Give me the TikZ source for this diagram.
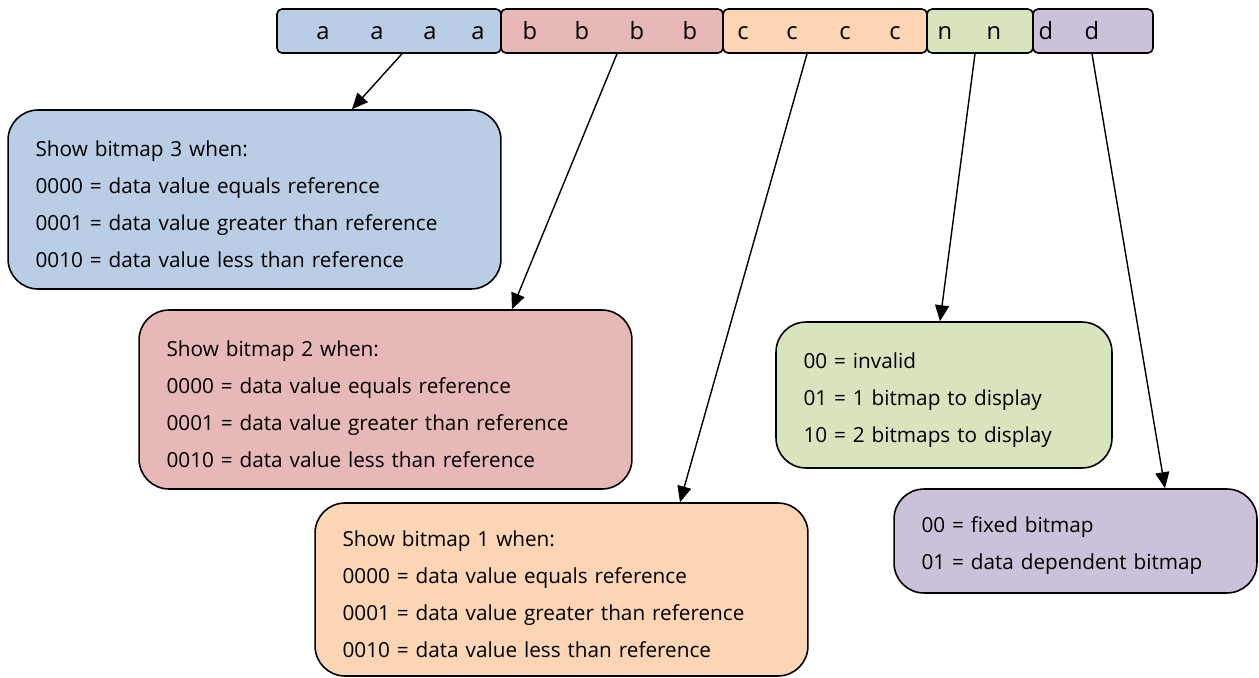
\documentclass[tikz,border=0pt]{standalone}
\usepackage{fontspec}
\setmainfont{Open Sans}
\usetikzlibrary{arrows.meta}
\definecolor{fieldblue}{HTML}{B9CDE5}
\definecolor{fieldred}{HTML}{E6B9B8}
\definecolor{fieldorange}{HTML}{FCD5B5}
\definecolor{fieldgreen}{HTML}{D7E4BD}
\definecolor{fieldpurple}{HTML}{CCC1DA}

\tikzset{
  field/.style={draw, line width=0.9pt, rounded corners=0.1cm, inner sep=0pt, minimum height=0.88cm},
  bitletter/.style={anchor=base, inner sep=0pt, font=\fontsize{13.5}{16}\selectfont},
  descbox/.style={draw, line width=0.9pt, rounded corners=0.6cm, align=left, inner xsep=0.55cm, inner ysep=0pt,
    font=\fontsize{11.8}{21}\selectfont, execute at begin node={\rule{0pt}{14.5pt}}},
  pointer/.style={-{Triangle[length=0.32cm,width=0.28cm]}, line width=0.8pt}
}

\begin{document}
\begin{tikzpicture}[x=0.02cm, y=-0.02cm]
        \useasboundingbox (0,0) rectangle (1259,677);

        % The bit fields along the top
        \node[field, fill=fieldblue, minimum width=4.48cm] (fieldA) at (389,31) {};
        \node[field, fill=fieldred, minimum width=4.44cm] (fieldB) at (612,31) {};
        \node[field, fill=fieldorange, minimum width=4.08cm] (fieldC) at (825,31) {};
        \node[field, fill=fieldgreen, minimum width=2.12cm] (fieldN) at (980,31) {};
        \node[field, fill=fieldpurple, minimum width=2.4cm] (fieldD) at (1093,31) {};

        % Bit letters
        \foreach \x/\l in {323/a, 377/a, 430/a, 478/a, 530/b, 582/b, 637/b, 690/b,
                           743/c, 792/c, 845/c, 895/c, 945/n, 994/n, 1046/d, 1092/d}
          \node[bitletter] (bit\x) at (\x,39.5) {\l};

        % Description boxes
        \node[descbox, fill=fieldblue, minimum width=9.86cm, minimum height=3.58cm, text width=8.76cm] (descA) at (254.5,199.5)
          {Show bitmap 3 when:\\0000 = data value equals reference\\0001 = data value greater than reference\\0010 = data value less than reference};
        \node[descbox, fill=fieldred, minimum width=9.86cm, minimum height=3.58cm, text width=8.76cm] (descB) at (385.5,399.5)
          {Show bitmap 2 when:\\0000 = data value equals reference\\0001 = data value greater than reference\\0010 = data value less than reference};
        \node[descbox, fill=fieldorange, minimum width=9.86cm, minimum height=3.46cm, text width=8.76cm] (descC) at (561.5,589.5)
          {Show bitmap 1 when:\\0000 = data value equals reference\\0001 = data value greater than reference\\0010 = data value less than reference};
        \node[descbox, fill=fieldgreen, minimum width=6.72cm, minimum height=2.92cm, text width=5.62cm] (descN) at (944,395)
          {00 = invalid\\01 = 1 bitmap to display\\10 = 2 bitmaps to display};
        \node[descbox, fill=fieldpurple, minimum width=7.26cm, minimum height=2.08cm, text width=6.16cm] (descD) at (1075.5,541)
          {00 = fixed bitmap\\01 = data dependent bitmap};

        % Pointers from fields to boxes
        \draw[pointer] ([xshift=0.26cm]fieldA.south) -- ([xshift=1.95cm]descA.north);
        \draw[pointer] ([xshift=0.1cm]fieldB.south) -- ([xshift=2.53cm]descB.north);
        \draw[pointer] ([xshift=-0.36cm]fieldC.south) -- ([xshift=2.37cm]descC.north);
        \draw[pointer] ([xshift=-0.1cm]fieldN.south) -- ([xshift=-0.08cm]descN.north);
        \draw[pointer] ([xshift=-0.02cm]fieldD.south) -- ([xshift=1.79cm]descD.north);
      \end{tikzpicture}
\end{document}
